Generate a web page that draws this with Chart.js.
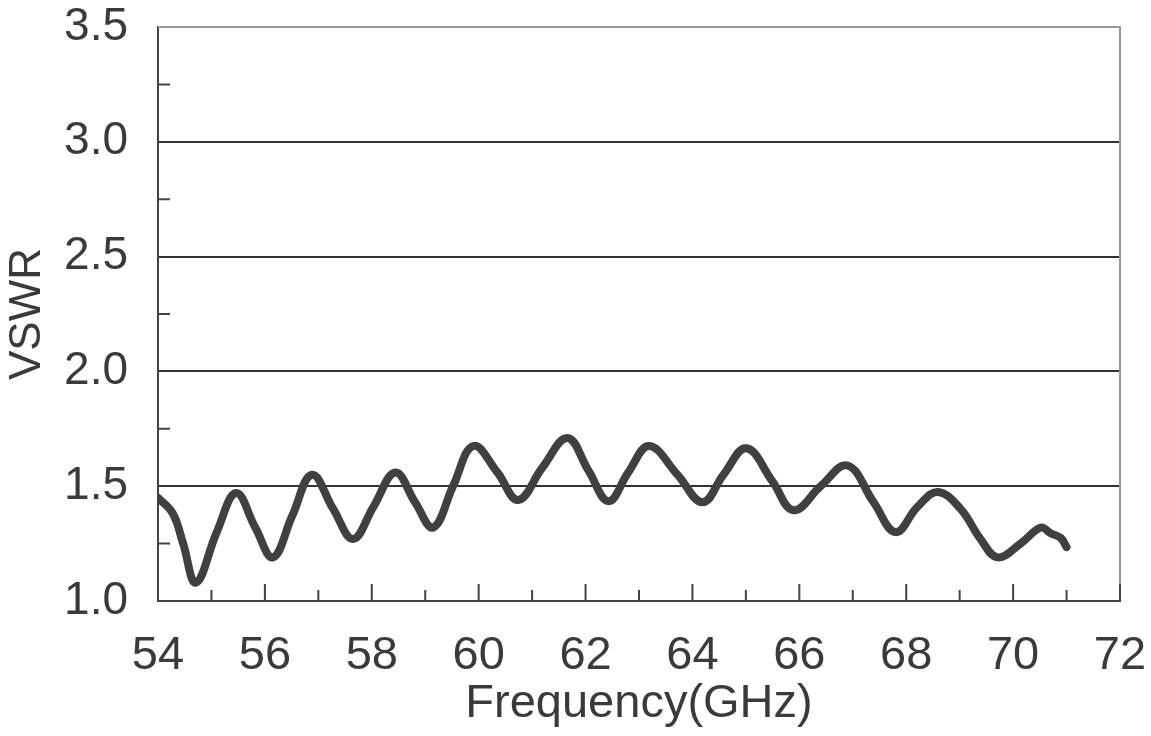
<!DOCTYPE html>
<html>
<head>
<meta charset="utf-8">
<script src="https://cdn.jsdelivr.net/npm/chart.js@4.4.0/dist/chart.umd.min.js"></script>
<style>
  html, body { margin: 0; padding: 0; background: #fff; }
</style>
</head>
<body>
<canvas id="myChart" width="1151" height="736"></canvas>
<script>
// values
var freq = [54.00, 54.28, 54.47, 54.71, 55.10, 55.46, 55.82, 56.15, 56.51, 56.88,
            57.28, 57.65, 58.03, 58.44, 58.81, 59.15, 59.52, 59.90, 60.35, 60.74,
            61.19, 61.66, 62.05, 62.43, 62.80, 63.19, 63.72, 64.19, 64.58, 65.01,
            65.50, 65.89, 66.40, 66.90, 67.39, 67.80, 68.21, 68.59, 69.02, 69.39,
            69.71, 70.14, 70.52, 70.70, 70.89, 71.00];
var vswr = [1.45, 1.38, 1.25, 1.08, 1.30, 1.47, 1.32, 1.19, 1.37, 1.55,
            1.40, 1.27, 1.41, 1.56, 1.43, 1.32, 1.50, 1.675, 1.56, 1.44,
            1.58, 1.71, 1.57, 1.435, 1.56, 1.675, 1.55, 1.43, 1.55, 1.665,
            1.52, 1.395, 1.50, 1.59, 1.43, 1.30, 1.41, 1.475, 1.40, 1.27,
            1.19, 1.25, 1.32, 1.295, 1.275, 1.235];

var xTicks = [54, 56, 58, 60, 62, 64, 66, 68, 70, 72];
var xMinorTicks = [55, 57, 59, 61, 63, 65, 67, 69, 71];
var yTicks = [1.0, 1.5, 2.0, 2.5, 3.0, 3.5];
var yMinorTicks = [1.25, 1.75, 2.25, 2.75, 3.25];

var points = freq.map(function (f, i) { return { x: f, y: vswr[i] }; });

var font = "'Liberation Sans', Arial, sans-serif";
var textColor = '#3a3a3a';

// grey top/right frame and the inward tick marks
var frameAndTicks = {
    id: 'frameAndTicks',
    beforeDatasetsDraw: function (chart) {
        var ctx = chart.ctx, a = chart.chartArea;
        var xs = chart.scales.x, ys = chart.scales.y;
        ctx.save();
        ctx.strokeStyle = '#999';
        ctx.lineWidth = 2;
        ctx.beginPath();
        ctx.moveTo(a.left, a.top);
        ctx.lineTo(a.right, a.top);
        ctx.lineTo(a.right, a.bottom);
        ctx.stroke();

        ctx.strokeStyle = '#444';
        ctx.lineWidth = 2;
        ctx.beginPath();
        xTicks.forEach(function (v) {
            var px = xs.getPixelForValue(v);
            ctx.moveTo(px, a.bottom);
            ctx.lineTo(px, a.bottom - 17);
        });
        xMinorTicks.forEach(function (v) {
            var px = xs.getPixelForValue(v);
            ctx.moveTo(px, a.bottom);
            ctx.lineTo(px, a.bottom - 11);
        });
        yMinorTicks.forEach(function (v) {
            var py = ys.getPixelForValue(v);
            ctx.moveTo(a.left, py);
            ctx.lineTo(a.left + 12, py);
        });
        ctx.stroke();
        ctx.restore();
    }
};

var ctx = document.getElementById('myChart');
var myChart = new Chart(ctx, {
    type: 'line',
    data: {
        datasets: [{
            label: 'VSWR',
            data: points,
            borderColor: '#404040',
            borderWidth: 8,
            borderCapStyle: 'round',
            borderJoinStyle: 'round',
            pointRadius: 0,
            fill: false,
            tension: 0.4
        }]
    },
    options: {
        responsive: false,
        animation: false,
        layout: { padding: 0 },
        plugins: {
            legend: { display: false },
            tooltip: { enabled: false }
        },
        scales: {
            x: {
                type: 'linear',
                min: 54,
                max: 72,
                afterBuildTicks: function (s) {
                    s.ticks = xTicks.map(function (v) { return { value: v }; });
                },
                afterFit: function (s) {
                    s.height = 135;
                    s.paddingLeft = 0;
                    s.paddingRight = 31;
                },
                grid: { drawOnChartArea: false, drawTicks: false },
                border: { color: '#444', width: 2 },
                ticks: {
                    padding: 27,
                    color: textColor,
                    font: { family: font, size: 47 },
                    callback: function (v) { return v; }
                },
                title: {
                    display: true,
                    text: 'Frequency(GHz)',
                    color: textColor,
                    font: { family: font, size: 47 },
                    padding: { top: 0, bottom: 4 }
                }
            },
            y: {
                min: 1.0,
                max: 3.5,
                afterBuildTicks: function (s) {
                    s.ticks = yTicks.map(function (v) { return { value: v }; });
                },
                afterFit: function (s) {
                    s.width = 158;
                    s.paddingTop = 27;
                    s.paddingBottom = 0;
                },
                grid: {
                    drawTicks: false,
                    lineWidth: 2,
                    color: function (c) {
                        var v = c.tick ? c.tick.value : null;
                        return (v === 1.0 || v === 3.5) ? 'rgba(0,0,0,0)' : '#333';
                    }
                },
                border: { color: '#444', width: 2 },
                ticks: {
                    padding: 30,
                    color: textColor,
                    font: { family: font, size: 46 },
                    callback: function (v) { return v.toFixed(1); }
                },
                title: {
                    display: true,
                    text: 'VSWR',
                    color: textColor,
                    font: { family: font, size: 44 },
                    padding: { top: 1, bottom: 0 }
                }
            }
        }
    },
    plugins: [frameAndTicks]
});
</script>
</body>
</html>
